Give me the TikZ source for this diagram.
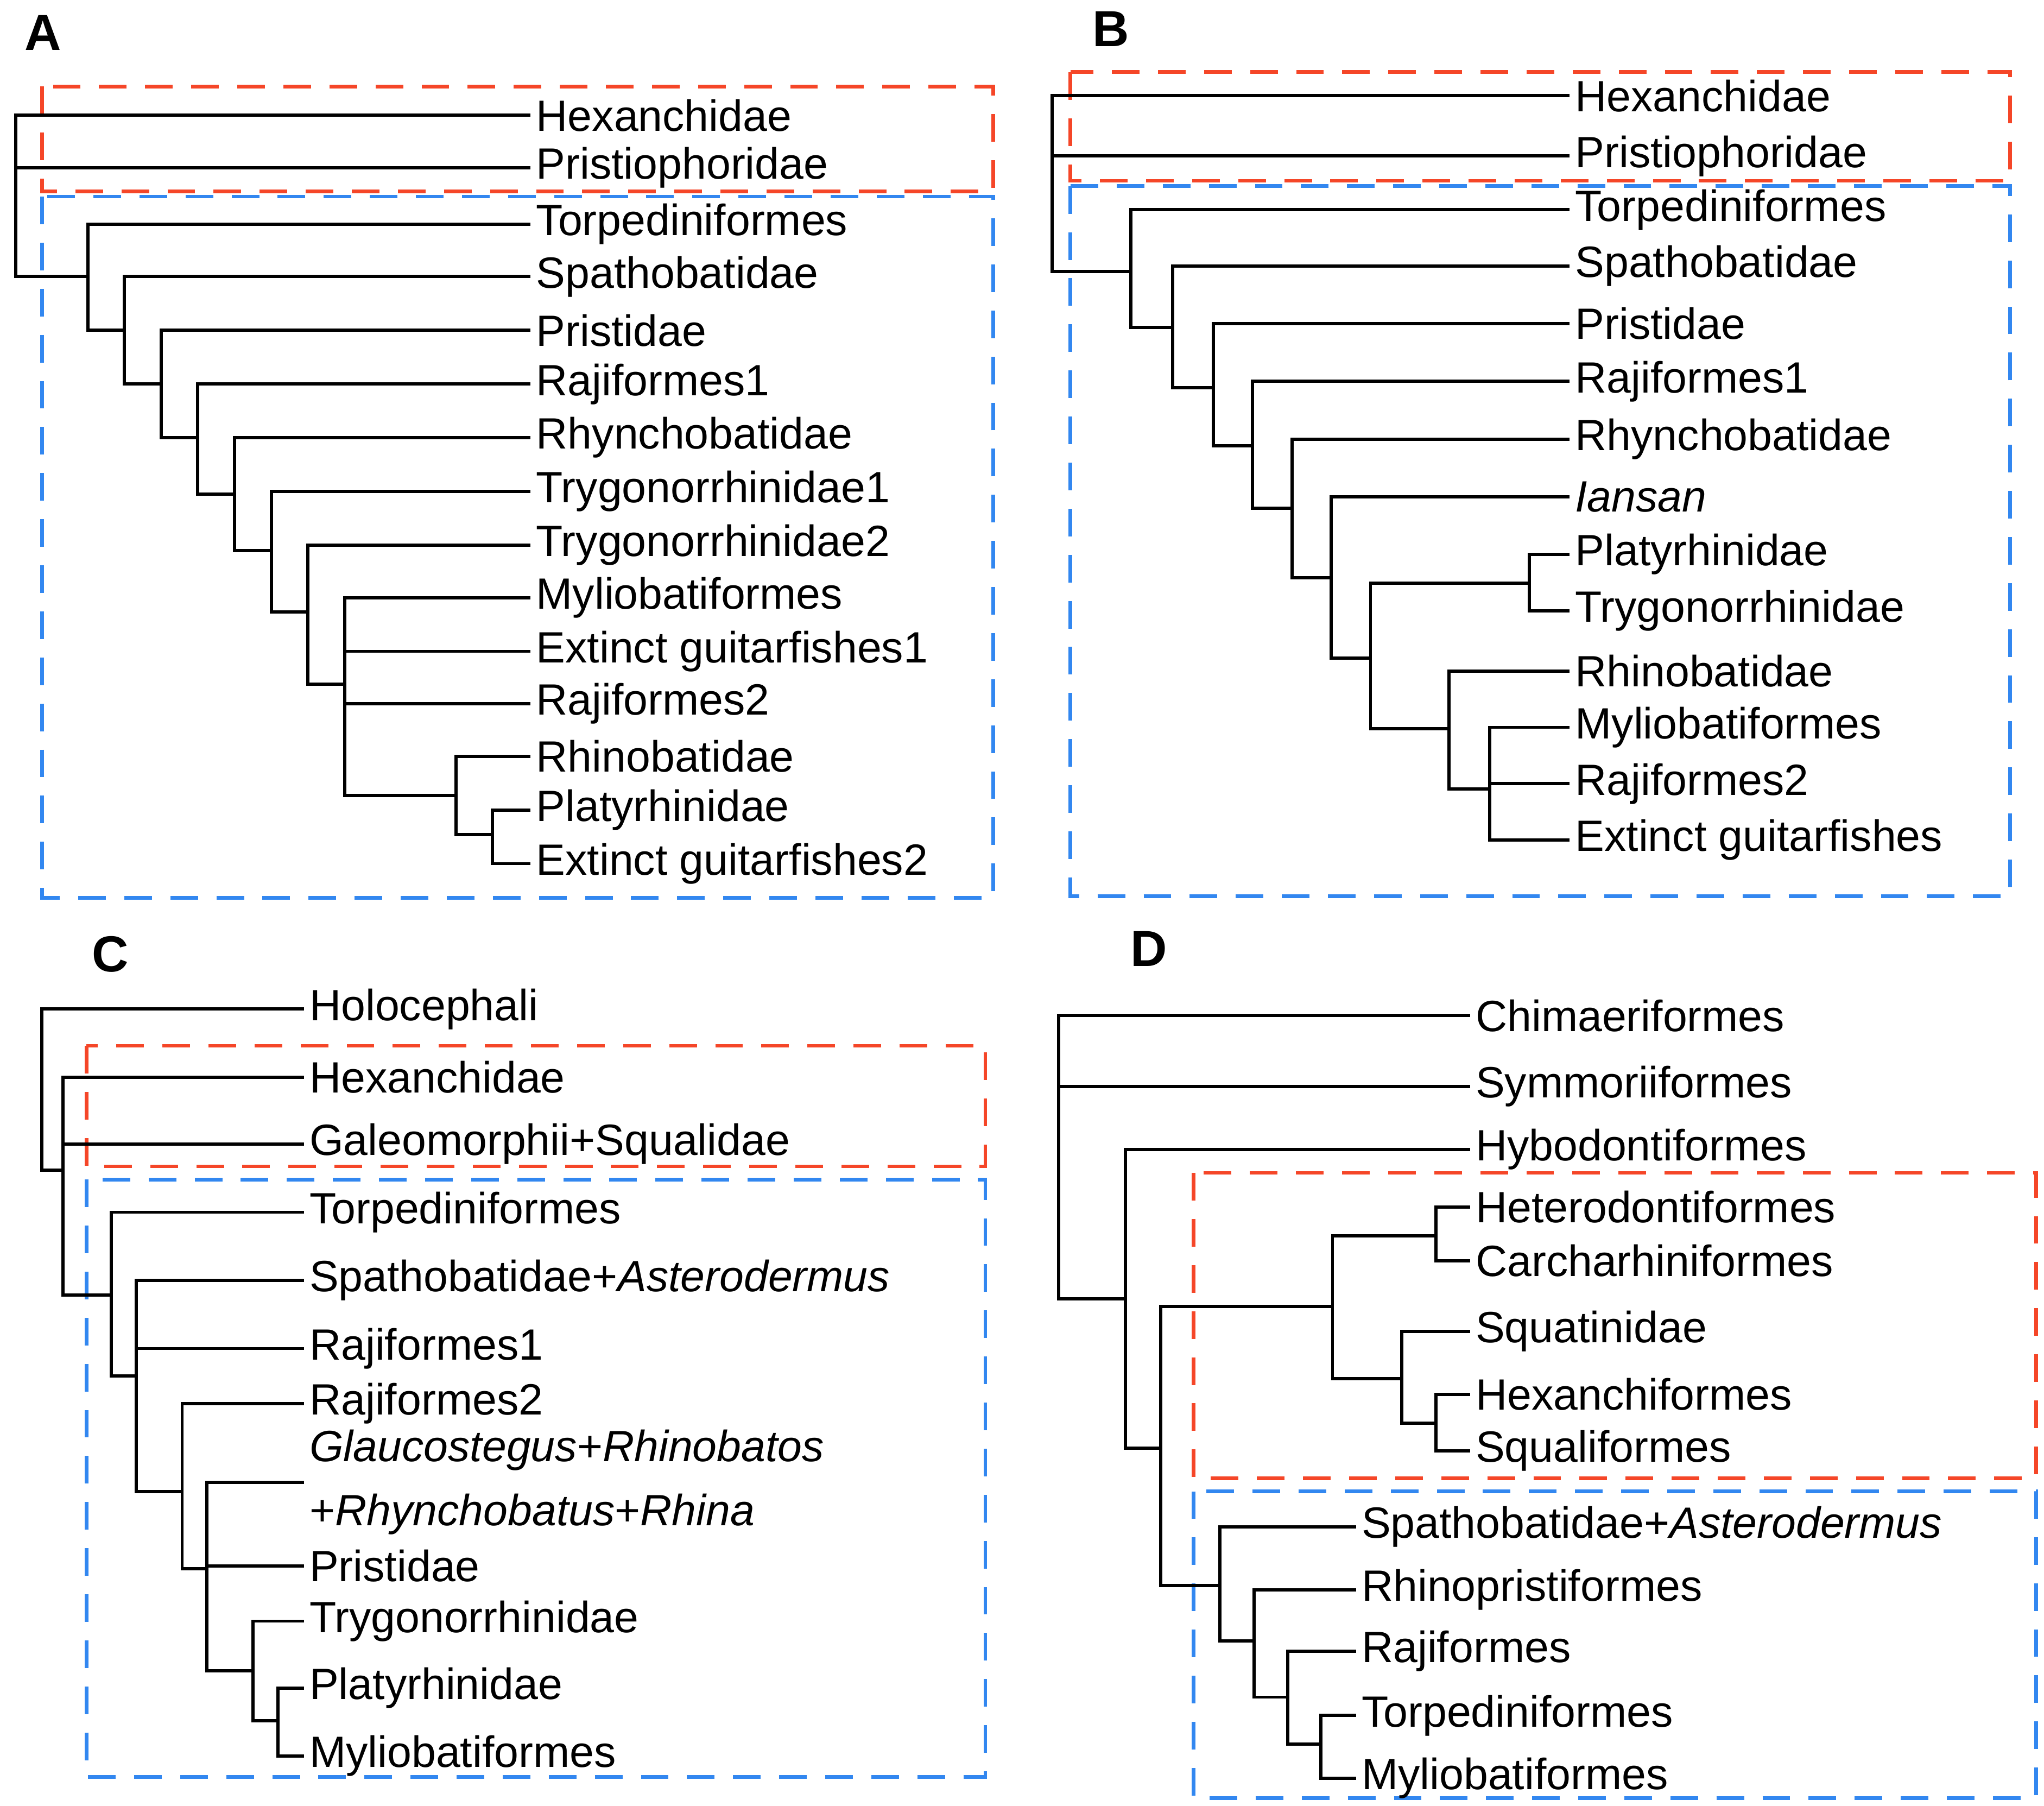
\documentclass[tikz,border=0pt]{standalone}
\usepackage{fontspec}
\setmainfont{Liberation Sans}
\begin{document}
\begin{tikzpicture}[x=0.01cm,y=-0.01cm,
  lab/.style={anchor=west,inner sep=1pt,font=\fontsize{9.5}{11}\selectfont},
  ttl/.style={font=\fontsize{11}{13}\selectfont\bfseries},
  br/.style={line width=0.7pt},
  rbox/.style={dashed,line width=0.8pt,draw={rgb,255:red,245;green,70;blue,40},dash pattern=on 6pt off 4pt},
  bbox/.style={dashed,line width=0.8pt,draw={rgb,255:red,50;green,135;blue,240},dash pattern=on 6pt off 4pt}]
\useasboundingbox (0,0) rectangle (1560,1378);
% ---------- A ----------
\node[ttl] (tA) at (33,25) {A};
\draw[rbox] (32,66) rectangle (758,146);
\draw[bbox] (32,150) rectangle (758,685);
\foreach \n/\y/\t in {hexA/88/Hexanchidae,priA/128/Pristiophoridae,torA/171/Torpediniformes,spaA/211/Spathobatidae,prsA/252/Pristidae,raA/293/Rajiformes1,rhyA/334/Rhynchobatidae,tyaA/375/Trygonorrhinidae1,tybA/416/Trygonorrhinidae2,myA/456/Myliobatiformes,exaA/497/Extinct guitarfishes1,rbA/537/Rajiformes2,rhiA/577/Rhinobatidae,plA/618/Platyrhinidae,exbA/659/Extinct guitarfishes2}
  \node[lab] (\n) at (405,\y) {\t};
\coordinate (a1) at (12,150);
\coordinate (a2) at (67,211);
\coordinate (a3) at (95,252);
\coordinate (a4) at (123,293);
\coordinate (a5) at (151,334);
\coordinate (a6) at (179,377);
\coordinate (a7) at (207,420);
\coordinate (a8) at (235,467);
\coordinate (a9) at (263,522);
\coordinate (a10) at (348,607);
\coordinate (a11) at (376,637);
\draw[br] (a1) |- (hexA.west); \draw[br] (a1) |- (priA.west); \draw[br] (a1) |- (a2);
\draw[br] (a2) |- (torA.west); \draw[br] (a2) |- (a3);
\draw[br] (a3) |- (spaA.west); \draw[br] (a3) |- (a4);
\draw[br] (a4) |- (prsA.west); \draw[br] (a4) |- (a5);
\draw[br] (a5) |- (raA.west); \draw[br] (a5) |- (a6);
\draw[br] (a6) |- (rhyA.west); \draw[br] (a6) |- (a7);
\draw[br] (a7) |- (tyaA.west); \draw[br] (a7) |- (a8);
\draw[br] (a8) |- (tybA.west); \draw[br] (a8) |- (a9);
\draw[br] (a9) |- (myA.west); \draw[br] (a9) |- (exaA.west); \draw[br] (a9) |- (rbA.west); \draw[br] (a9) |- (a10);
\draw[br] (a10) |- (rhiA.west); \draw[br] (a10) |- (a11);
\draw[br] (a11) |- (plA.west); \draw[br] (a11) |- (exbA.west);
% ---------- B ----------
\node[ttl] (tB) at (848,22) {B};
\draw[rbox] (817,55) rectangle (1534,138);
\draw[bbox] (817,142) rectangle (1534,684);
\foreach \n/\y/\t in {hexB/73/Hexanchidae,priB/119/Pristiophoridae,torB/160/Torpediniformes,spaB/203/Spathobatidae,prsB/247/Pristidae,raB/291/Rajiformes1,rhyB/335/Rhynchobatidae,ianB/379/\textit{Iansan},plB/423/Platyrhinidae,tyB/466/Trygonorrhinidae,rhiB/512/Rhinobatidae,myB/555/Myliobatiformes,rbB/598/Rajiformes2,exB/641/Extinct guitarfishes}
  \node[lab] (\n) at (1198,\y) {\t};
\coordinate (b1) at (803,140);
\coordinate (b2) at (863,207);
\coordinate (b3) at (895,250);
\coordinate (b4) at (926,296);
\coordinate (b5) at (956,340);
\coordinate (b6) at (986,388);
\coordinate (b7) at (1016,441);
\coordinate (b8) at (1046,502);
\coordinate (b9) at (1167,445);
\coordinate (b10) at (1106,556);
\coordinate (b11) at (1137,602);
\draw[br] (b1) |- (hexB.west); \draw[br] (b1) |- (priB.west); \draw[br] (b1) |- (b2);
\draw[br] (b2) |- (torB.west); \draw[br] (b2) |- (b3);
\draw[br] (b3) |- (spaB.west); \draw[br] (b3) |- (b4);
\draw[br] (b4) |- (prsB.west); \draw[br] (b4) |- (b5);
\draw[br] (b5) |- (raB.west); \draw[br] (b5) |- (b6);
\draw[br] (b6) |- (rhyB.west); \draw[br] (b6) |- (b7);
\draw[br] (b7) |- (ianB.west); \draw[br] (b7) |- (b8);
\draw[br] (b8) |- (b9); \draw[br] (b8) |- (b10);
\draw[br] (b9) |- (plB.west); \draw[br] (b9) |- (tyB.west);
\draw[br] (b10) |- (rhiB.west); \draw[br] (b10) |- (b11);
\draw[br] (b11) |- (myB.west); \draw[br] (b11) |- (rbB.west); \draw[br] (b11) |- (exB.west);
% ---------- C ----------
\node[ttl] (tC) at (84,728) {C};
\draw[rbox] (66,798) rectangle (752,890);
\draw[bbox] (66,900) rectangle (752,1356);
\foreach \n/\y/\t in {hoC/770/Holocephali,hexC/822/Hexanchidae,gaC/873/Galeomorphii+Squalidae,torC/925/Torpediniformes,spaC/977/Spathobatidae+\textit{Asterodermus},raC/1029/Rajiformes1,rbC/1071/Rajiformes2,prsC/1195/Pristidae,tyC/1237/Trygonorrhinidae,plC/1288/Platyrhinidae,myC/1340/Myliobatiformes}
  \node[lab] (\n) at (232,\y) {\t};
\node[lab,align=left] (glC) at (232,1131) {\textit{Glaucostegus}+\textit{Rhinobatos}\\[3pt]+\textit{Rhynchobatus}+\textit{Rhina}};
\coordinate (c1) at (32,830);
\coordinate (c2) at (48,893);
\coordinate (c4) at (85,988);
\coordinate (c5) at (104,1050);
\coordinate (c6) at (139,1138);
\coordinate (c7) at (158,1197);
\coordinate (c8) at (193,1275);
\coordinate (c9) at (212,1313);
\draw[br] (c1) |- (hoC.west); \draw[br] (c1) |- (c2);
\draw[br] (c2) |- (hexC.west); \draw[br] (c2) |- (gaC.west); \draw[br] (c2) |- (c4);
\draw[br] (c4) |- (torC.west); \draw[br] (c4) |- (c5);
\draw[br] (c5) |- (spaC.west); \draw[br] (c5) |- (raC.west); \draw[br] (c5) |- (c6);
\draw[br] (c6) |- (rbC.west); \draw[br] (c6) |- (c7);
\draw[br] (c7) |- (glC.west); \draw[br] (c7) |- (prsC.west); \draw[br] (c7) |- (c8);
\draw[br] (c8) |- (tyC.west); \draw[br] (c8) |- (c9);
\draw[br] (c9) |- (plC.west); \draw[br] (c9) |- (myC.west);
% ---------- D ----------
\node[ttl] (tD) at (877,724) {D};
\draw[rbox] (911,895) rectangle (1554,1128);
\draw[bbox] (911,1138) rectangle (1554,1372);
\foreach \n/\y/\t in {chD/775/Chimaeriformes,syD/829/Symmoriiformes,hyD/877/Hybodontiformes,heD/921/Heterodontiformes,caD/962/Carcharhiniformes,sqD/1016/Squatinidae,hxD/1064/Hexanchiformes,slD/1107/Squaliformes}
  \node[lab] (\n) at (1122,\y) {\t};
\foreach \n/\y/\t in {spD/1165/Spathobatidae+\textit{Asterodermus},rpD/1213/Rhinopristiformes,raD/1260/Rajiformes,toD/1309/Torpediniformes,myD/1357/Myliobatiformes}
  \node[lab] (\n) at (1035,\y) {\t};
\coordinate (d1) at (808,900);
\coordinate (d2) at (859,991);
\coordinate (d3) at (886,1105);
\coordinate (d4) at (1017,997);
\coordinate (d5) at (931,1210);
\coordinate (d6) at (1096,943);
\coordinate (d7) at (1070,1052);
\coordinate (d8) at (1096,1086);
\coordinate (d9) at (957,1252);
\coordinate (d10) at (983,1295);
\coordinate (d11) at (1008,1331);
\draw[br] (d1) |- (chD.west); \draw[br] (d1) |- (syD.west); \draw[br] (d1) |- (d2);
\draw[br] (d2) |- (hyD.west); \draw[br] (d2) |- (d3);
\draw[br] (d3) |- (d4); \draw[br] (d3) |- (d5);
\draw[br] (d4) |- (d6); \draw[br] (d4) |- (d7);
\draw[br] (d6) |- (heD.west); \draw[br] (d6) |- (caD.west);
\draw[br] (d7) |- (sqD.west); \draw[br] (d7) |- (d8);
\draw[br] (d8) |- (hxD.west); \draw[br] (d8) |- (slD.west);
\draw[br] (d5) |- (spD.west); \draw[br] (d5) |- (d9);
\draw[br] (d9) |- (rpD.west); \draw[br] (d9) |- (d10);
\draw[br] (d10) |- (raD.west); \draw[br] (d10) |- (d11);
\draw[br] (d11) |- (toD.west); \draw[br] (d11) |- (myD.west);
\end{tikzpicture}
\end{document}
